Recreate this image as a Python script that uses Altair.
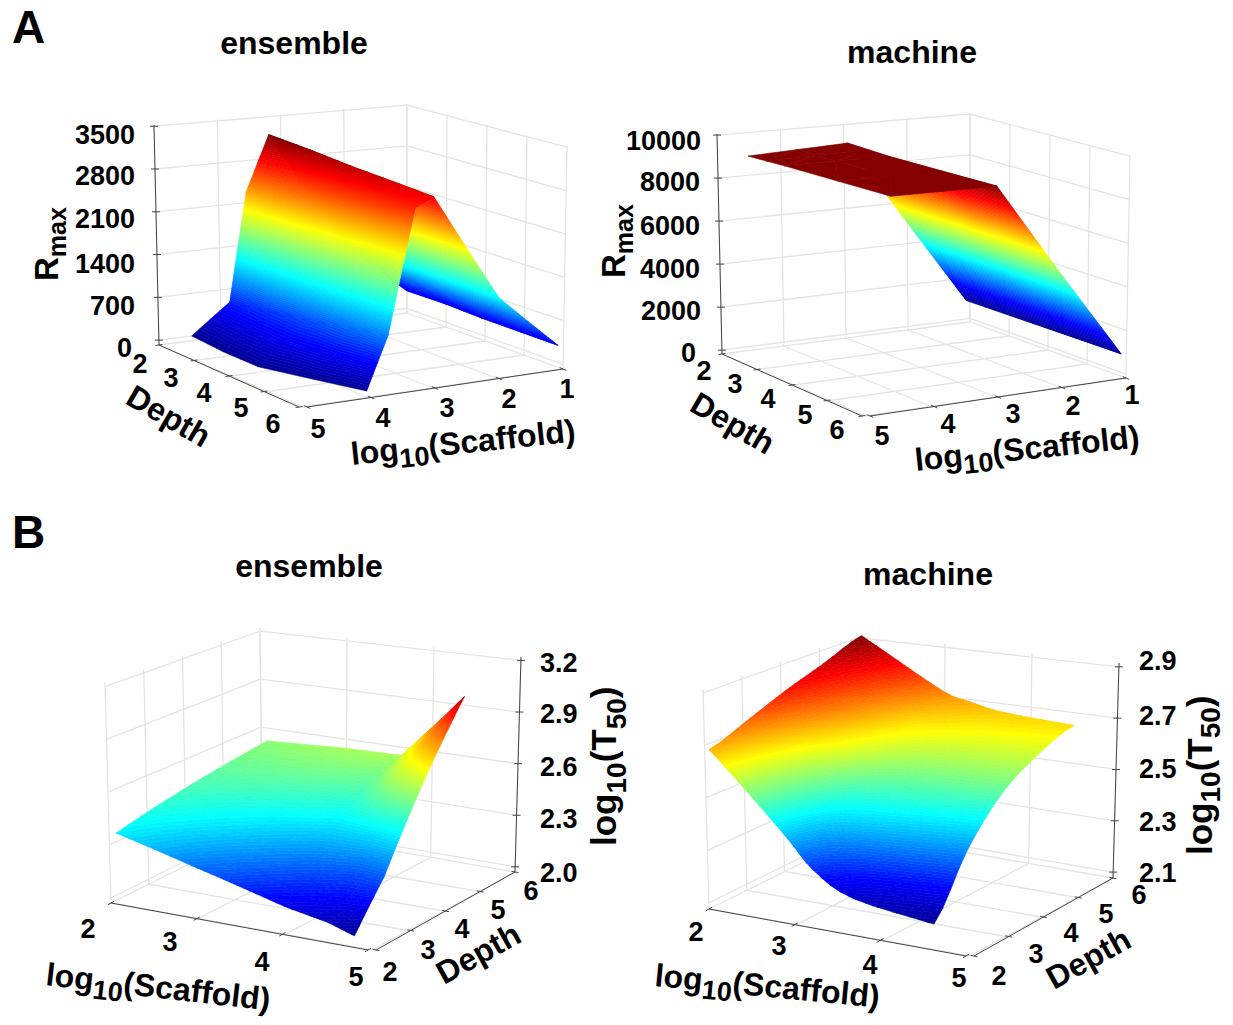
import math
import altair as alt

# ---------- values ----------
JET_STOPS = [0, 0.125, 0.375, 0.625, 0.875, 1]
JET_COLORS = ["#00008f", "#0000ff", "#00ffff", "#ffff00", "#ff0000", "#800000"]

# A, ensemble
A1_DEPTH = [2, 3, 4, 6]
A1_SCAFFOLD = [
    [1.0, 2.0, 3.19, 3.56, 3.85, 4.47],
    [1.0, 2.0, 3.14, 3.50, 3.82, 4.55],
    [1.05, 2.0, 3.10, 3.44, 3.78, 4.57],
    [1.08, 2.0, 3.00, 3.28, 3.69, 4.02],
]
A1_RMAX = [
    [300, 1210, 3200, 2280, 480, 0],
    [305, 1205, 3110, 2380, 560, 0],
    [305, 1200, 3010, 2480, 640, 5],
    [310, 1190, 2850, 2700, 810, 20],
]
# A, machine
A2_DEPTH = [2, 3, 6]
A2_SCAFFOLD = [
    [1.06, 2.94, 4.52],
    [1.06, 2.90, 4.53],
    [1.08, 3.00, 4.60],
]
A2_RMAX = [
    [890, 9100, 8900],
    [900, 8950, 8900],
    [960, 9000, 8850],
]
# B, ensemble
B1_DEPTH = [2, 3, 4, 5, 6]
B1_SCAFFOLD = [
    [2.08, 3, 4.0, 4.5, 4.80],
    [2.08, 3, 3.9, 4.38, 4.73],
    [2.08, 3, 3.8, 4.25, 4.58],
    [2.07, 3, 3.7, 4.15, 4.45],
    [2.07, 3, 3.64, 4.15, 4.36],
]
B1_T50 = [
    [2.373, 2.246, 2.115, 2.07, 2.025],
    [2.42, 2.34, 2.25, 2.21, 2.23],
    [2.46, 2.42, 2.38, 2.41, 2.44],
    [2.49, 2.49, 2.47, 2.60, 2.675],
    [2.52, 2.545, 2.55, 2.83, 2.95],
]
# B, machine
B2_DEPTH = [2, 3, 4, 5, 6]
B2_SCAFFOLD = [
    [2.05, 2.87, 3.22, 3.67, 4.59],
    [2.05, 2.90, 3.25, 3.70, 4.57],
    [2.05, 2.90, 3.25, 3.70, 4.55],
    [2.04, 2.90, 3.25, 3.70, 4.52],
    [2.04, 2.94, 3.30, 3.70, 4.50],
]
B2_T50 = [
    [2.686, 2.406, 2.284, 2.206, 2.164],
    [2.74, 2.47, 2.42, 2.40, 2.364],
    [2.80, 2.60, 2.54, 2.52, 2.51],
    [2.85, 2.67, 2.63, 2.605, 2.592],
    [2.91, 2.727, 2.69, 2.665, 2.65],
]

RMAX1_TICKS = [0, 700, 1400, 2100, 2800, 3500]
RMAX2_TICKS = [0, 2000, 4000, 6000, 8000, 10000]
T1_TICKS = ["2.0", "2.3", "2.6", "2.9", "3.2"]
T2_TICKS = ["2.1", "2.3", "2.5", "2.7", "2.9"]
DEPTH_TICKS = [2, 3, 4, 5, 6]
SCAFFOLD_A_TICKS = [1, 2, 3, 4, 5]
SCAFFOLD_B_TICKS = [2, 3, 4, 5]

# ---------- layout of the four 3-D boxes (page pixels) ----------
def shift(c, dx, dy):
    return {k: [(p[0] + dx, p[1] + dy) for p in v] for k, v in c.items()}

# key: (scaffold end, depth end); value: [floor corner, top corner]
BOX_A = {
    (0, 0): [(407, 313), (407, 104)],
    (1, 0): [(159, 345), (154, 125)],
    (0, 1): [(563, 369), (567, 146)],
    (1, 1): [(303, 407), (301, 160)],
}
BOX_B = {
    (0, 0): [(111, 903), (105, 683)],
    (1, 0): [(372, 950), (369, 700)],
    (0, 1): [(262, 828), (260, 628)],
    (1, 1): [(515, 872), (521, 657)],
}

PANELS = [
    dict(kind="A", box=BOX_A, zr=(-80, 3520), dom=(0, 3200), depth=A1_DEPTH, s=A1_SCAFFOLD, z=A1_RMAX,
         zt=RMAX1_TICKS, zl=[str(v) for v in RMAX1_TICKS], sub=2, smooth=False),
    dict(kind="A", box=shift(BOX_A, 563, 9), zr=(-180, 10050), dom=(880, 8900), depth=A2_DEPTH, s=A2_SCAFFOLD, z=A2_RMAX,
         zt=RMAX2_TICKS, zl=[str(v) for v in RMAX2_TICKS], sub=2, smooth=False),
    dict(kind="B", box=BOX_B, zr=(1.97, 3.22), dom=(2.02, 3.0), depth=B1_DEPTH, s=B1_SCAFFOLD, z=B1_T50,
         zt=[float(v) for v in T1_TICKS], zl=T1_TICKS, sub=3, smooth=False),
    dict(kind="B", box=shift(BOX_B, 598, 6), zr=(2.077, 2.915), dom=(2.16, 2.91), depth=B2_DEPTH, s=B2_SCAFFOLD, z=B2_T50,
         zt=[float(v) for v in T2_TICKS], zl=T2_TICKS, sub=4, smooth=True),
]

W, H = 1217, 1009
M = 8
BANDS = 100


def project(p, s, d, z):
    smin, smax = (1, 5) if p["kind"] == "A" else (2, 5)
    u = (s - smin) / (smax - smin)
    v = (d - 2) / 4
    w = (z - p["zr"][0]) / (p["zr"][1] - p["zr"][0])
    x = y = 0.0
    for iu in (0, 1):
        for iv in (0, 1):
            fl, tp = p["box"][(iu, iv)]
            k = (u if iu else 1 - u) * (v if iv else 1 - v)
            x += k * (fl[0] * (1 - w) + tp[0] * w)
            y += k * (fl[1] * (1 - w) + tp[1] * w)
    return x, y


def clip(poly, lim, above):
    out = []
    for i in range(len(poly)):
        a, b = poly[i], poly[(i + 1) % len(poly)]
        ina = a[2] >= lim if above else a[2] <= lim
        inb = b[2] >= lim if above else b[2] <= lim
        if ina:
            out.append(a)
        if ina != inb:
            f = (lim - a[2]) / (b[2] - a[2])
            out.append((a[0] + f * (b[0] - a[0]), a[1] + f * (b[1] - a[1]), lim))
    return out


def cr(p0, p1, p2, p3, f):
    return 0.5 * (2 * p1 + (p2 - p0) * f + (2 * p0 - 5 * p1 + 4 * p2 - p3) * f * f
                  + (3 * p1 - p0 - 3 * p2 + p3) * f * f * f)


def smooth_value(m, r, c, a, b):
    rows, cols = len(m), len(m[0])
    vals = []
    for rr in range(r - 1, r + 3):
        row = m[min(rows - 1, max(0, rr))]
        vals.append(cr(row[max(0, c - 1)], row[c], row[c + 1], row[min(cols - 1, c + 2)], b))
    return cr(vals[0], vals[1], vals[2], vals[3], a)


def surface(p):
    rows, cols = len(p["depth"]), len(p["s"][0])
    n = p["sub"]
    lo, hi = p["dom"]
    sign = 1 if p["kind"] == "A" else -1
    tris = []
    for r in range(rows - 1):
        for c in range(cols - 1):
            def vert(i, j):
                a, b = i / n, j / n
                def bl(m):
                    if p["smooth"]:
                        return smooth_value(m, r, c, a, b)
                    return ((1 - a) * (1 - b) * m[r][c] + a * (1 - b) * m[r + 1][c]
                            + (1 - a) * b * m[r][c + 1] + a * b * m[r + 1][c + 1])
                s, z = bl(p["s"]), bl(p["z"])
                d = p["depth"][r] * (1 - a) + p["depth"][r + 1] * a
                x, y = project(p, s, d, z)
                t = min(1.0, max(0.0, (z - lo) / (hi - lo)))
                return (x - M, y - M, t, s, d)
            for i in range(n):
                for j in range(n):
                    q = [vert(i, j), vert(i + 1, j), vert(i + 1, j + 1), vert(i, j + 1)]
                    for tr in ([q[0], q[1], q[2]], [q[0], q[2], q[3]]):
                        key = sum(v[3] / 4 + sign * v[4] / 4 for v in tr)
                        tris.append((key, [v[:3] for v in tr]))
    tris.sort(key=lambda e: e[0])
    feats = []
    for _, tr in tris:
        ts = [v[2] for v in tr]
        k0 = min(BANDS - 1, int(min(ts) * BANDS))
        k1 = min(BANDS - 1, int(max(ts) * BANDS))
        for k in range(k0, k1 + 1):
            poly = tr
            if k > k0:
                poly = clip(poly, k / BANDS, True)
            if k < k1 and poly:
                poly = clip(poly, (k + 1) / BANDS, False)
            if len(poly) >= 3:
                ring = [[round(v[0], 2), round(v[1], 2)] for v in poly]
                ring.append(ring[0])
                feats.append({"type": "Feature", "properties": {"t": (k + 0.5) / BANDS},
                              "geometry": {"type": "Polygon", "coordinates": [ring]}})
    return feats


def seg(p0, p1):
    return {"x": p0[0], "y": p0[1], "x2": p1[0], "y2": p1[1]}


grid, axes = [], []
for p in PANELS:
    isA = p["kind"] == "A"
    smin, smax = (1, 5) if isA else (2, 5)
    sticks = SCAFFOLD_A_TICKS if isA else SCAFFOLD_B_TICKS
    dback = 2 if isA else 6
    sback = 1 if isA else 2
    z0, z1 = p["zr"]
    for z in p["zt"]:
        grid.append(seg(project(p, smin, dback, z), project(p, smax, dback, z)))
        grid.append(seg(project(p, sback, 2, z), project(p, sback, 6, z)))
    for s in sticks:
        grid.append(seg(project(p, s, dback, z0), project(p, s, dback, z1)))
        grid.append(seg(project(p, s, 2, z0), project(p, s, 6, z0)))
    for d in DEPTH_TICKS:
        grid.append(seg(project(p, sback, d, z0), project(p, sback, d, z1)))
        grid.append(seg(project(p, smin, d, z0), project(p, smax, d, z0)))
    # axes: the z axis stands on the outer corner, the two floor axes leave a gap at the front
    sz, dz = (5, 2) if isA else (5, 6)
    axes.append(seg(project(p, sz, dz, z0), project(p, sz, dz, z1)))
    for z in p["zt"]:
        x, y = project(p, sz, dz, z)
        axes.append(seg((x - 4, y), (x + 4, y)))
    gap = 4
    if isA:
        d_a, d_b = project(p, 5, 2, z0), project(p, 5, 6, z0)
        d_b = (d_b[0] - gap, d_b[1])
        s_a, s_b = project(p, 5, 6, z0), project(p, 1, 6, z0)
        s_a = (s_a[0] + gap, s_a[1])
        stv = [(5 - s) / 4 for s in sticks]
    else:
        s_a, s_b = project(p, 2, 2, z0), project(p, 5, 2, z0)
        s_b = (s_b[0] - gap, s_b[1])
        d_a, d_b = project(p, 5, 2, z0), project(p, 5, 6, z0)
        d_a = (d_a[0] + gap, d_a[1])
        stv = [(s - 2) / 3 for s in sticks]
    axes.append(seg(d_a, d_b))
    axes.append(seg(s_a, s_b))
    sdir = ((s_b[0] - s_a[0]), (s_b[1] - s_a[1]))
    ddir = ((d_b[0] - d_a[0]), (d_b[1] - d_a[1]))
    sl, dl = math.hypot(*sdir), math.hypot(*ddir)
    for f in stv:
        c = (s_a[0] + f * sdir[0], s_a[1] + f * sdir[1])
        e = (3.5 * ddir[0] / dl, 3.5 * ddir[1] / dl)
        axes.append(seg((c[0] - e[0], c[1] - e[1]), (c[0] + e[0], c[1] + e[1])))
    for f in [(d - 2) / 4 for d in DEPTH_TICKS]:
        c = (d_a[0] + f * ddir[0], d_a[1] + f * ddir[1])
        e = (3.5 * sdir[0] / sl, 3.5 * sdir[1] / sl)
        axes.append(seg((c[0] - e[0], c[1] - e[1]), (c[0] + e[0], c[1] + e[1])))

# ---------- text ----------
CHAR = {"l": .278, "o": .611, "g": .611, "1": .556, "0": .556, "5": .556, "(": .333, ")": .333, "S": .667,
        "c": .556, "a": .556, "f": .333, "d": .611, "T": .611, "R": .722, "m": .889, "x": .556,
        "D": .722, "e": .556, "p": .611, "t": .333, "h": .611}


def run(x, y, angle, pieces):
    out = []
    a = math.radians(angle)
    dx, dy = math.cos(a), math.sin(a)
    nx, ny = -dy, dx
    pos = 0.0
    for text, size, drop in pieces:
        out.append({"x": x + dx * pos + nx * drop, "y": y + dy * pos + ny * drop,
                    "text": text, "size": size, "angle": angle})
        pos += sum(CHAR[ch] for ch in text) * size
    return out


LOGS = [("log", 32, 0), ("10", 27, 8), ("(Scaffold)", 32, 0)]
RMX = [("R", 33, 0), ("max", 25, 8)]
LOGT = [("log", 35, 0), ("10", 28, 10), ("(T", 35, 0), ("50", 28, 10), (")", 35, 0)]
LOGT2 = [("log", 35, 0), ("10", 28, 8), ("(T", 35, 0), ("50", 28, 8), (")", 35, 0)]
DEPTH = [("Depth", 32, 0)]

rotated = (run(352, 465, -6, LOGS) + run(916, 471, -6, LOGS)
           + run(45, 985, 6.5, LOGS) + run(654, 986, 5.5, LOGS)
           + run(58, 281, -90, RMX) + run(625, 278, -90, RMX)
           + run(616, 846, -90, LOGT) + run(1212, 855, -90, LOGT2)
           + run(124, 403, 30, DEPTH) + run(688, 410, 30, DEPTH)
           + run(444, 985, -29, DEPTH) + run(1054, 990, -29, DEPTH))

plain_left = [
    {"x": 12, "y": 43, "text": "A", "size": 46, "angle": 0},
    {"x": 12, "y": 548, "text": "B", "size": 46, "angle": 0},
]
titles = [
    {"x": 294, "y": 54, "text": "ensemble", "size": 32, "angle": 0},
    {"x": 912, "y": 63, "text": "machine", "size": 32, "angle": 0},
    {"x": 309, "y": 577, "text": "ensemble", "size": 32, "angle": 0},
    {"x": 928, "y": 585, "text": "machine", "size": 32, "angle": 0},
]


def ticktext(labels, xs, ys):
    return [{"x": x, "y": y + 1.5, "text": str(t), "size": 27, "angle": 0} for t, x, y in zip(labels, xs, ys)]


ticks_center = (
    ticktext(DEPTH_TICKS, [140, 171, 204, 241, 273], [363, 377, 392, 407, 423])
    + ticktext(SCAFFOLD_A_TICKS[::-1], [318, 383, 447, 509, 567], [428, 417, 407, 398, 388])
    + ticktext(DEPTH_TICKS, [704, 735, 768, 805, 837], [370, 383, 398, 414, 429])
    + ticktext(SCAFFOLD_A_TICKS[::-1], [882, 948, 1013, 1073, 1132], [435, 423, 413, 405, 394])
    + ticktext(DEPTH_TICKS, [390, 428, 462, 498, 531], [971, 949, 928, 909, 890])
    + ticktext(SCAFFOLD_B_TICKS, [88, 170, 262, 356], [928, 941, 961, 976])
    + ticktext(DEPTH_TICKS, [999, 1036, 1071, 1106, 1139], [975, 953, 932, 913, 894])
    + ticktext(SCAFFOLD_B_TICKS, [696, 779, 870, 959], [931, 945, 964, 977])
)
ticks_right = (
    ticktext(PANELS[0]["zl"], [132, 135, 135, 135, 135, 135], [347, 305, 263, 218, 175, 134])
    + ticktext(PANELS[1]["zl"], [696, 701, 700, 700, 700, 701], [352, 310, 268, 225, 181, 140])
)
ticks_left = (
    ticktext(T1_TICKS, [540] * 5, [872, 818, 766, 713, 662])
    + ticktext(T2_TICKS, [1139] * 5, [872, 821, 768, 715, 660])
)

# ---------- chart ----------
sx = alt.Scale(domain=[M, M + W], nice=False, zero=False)
sy = alt.Scale(domain=[M + H, M], nice=False, zero=False)
X = alt.X("x:Q", scale=sx, axis=None)
Y = alt.Y("y:Q", scale=sy, axis=None)
FONT = "Liberation Sans"


def rules(rows, color, width):
    return alt.Chart(alt.Data(values=rows)).mark_rule(color=color, strokeWidth=width).encode(
        x=X, y=Y, x2="x2:Q", y2="y2:Q")


def texts(rows, align, baseline):
    return alt.Chart(alt.Data(values=rows)).mark_text(
        align=align, baseline=baseline, font=FONT, fontWeight="bold", color="#000000"
    ).encode(x=X, y=Y, text="text:N",
             size=alt.Size("size:Q", scale=None),
             angle=alt.Angle("angle:Q", scale=None))


jet = alt.Scale(domain=JET_STOPS, range=JET_COLORS, interpolate="rgb")
features = []
for p in PANELS:
    features.extend(surface(p))

mesh = alt.Chart(alt.Data(values=features)).mark_geoshape(strokeWidth=0.6).encode(
    color=alt.Color("properties.t:Q", scale=jet, legend=None),
    stroke=alt.Stroke("properties.t:Q", scale=jet, legend=None),
).project(type="identity", scale=1, translate=[0, 0])

chart = alt.layer(
    rules(grid, "#e4e4e4", 1.3),
    mesh,
    rules(axes, "#444444", 1),
    texts(rotated + plain_left, "left", "alphabetic"),
    texts(titles, "center", "alphabetic"),
    texts(ticks_center, "center", "middle"),
    texts(ticks_right, "right", "middle"),
    texts(ticks_left, "left", "middle"),
).properties(
    width=W, height=H, padding=0, autosize=alt.AutoSizeParams(type="none"), background="white"
).configure_view(stroke=None)

chart.save("out.html", embed_options={"renderer": "svg", "actions": False})
